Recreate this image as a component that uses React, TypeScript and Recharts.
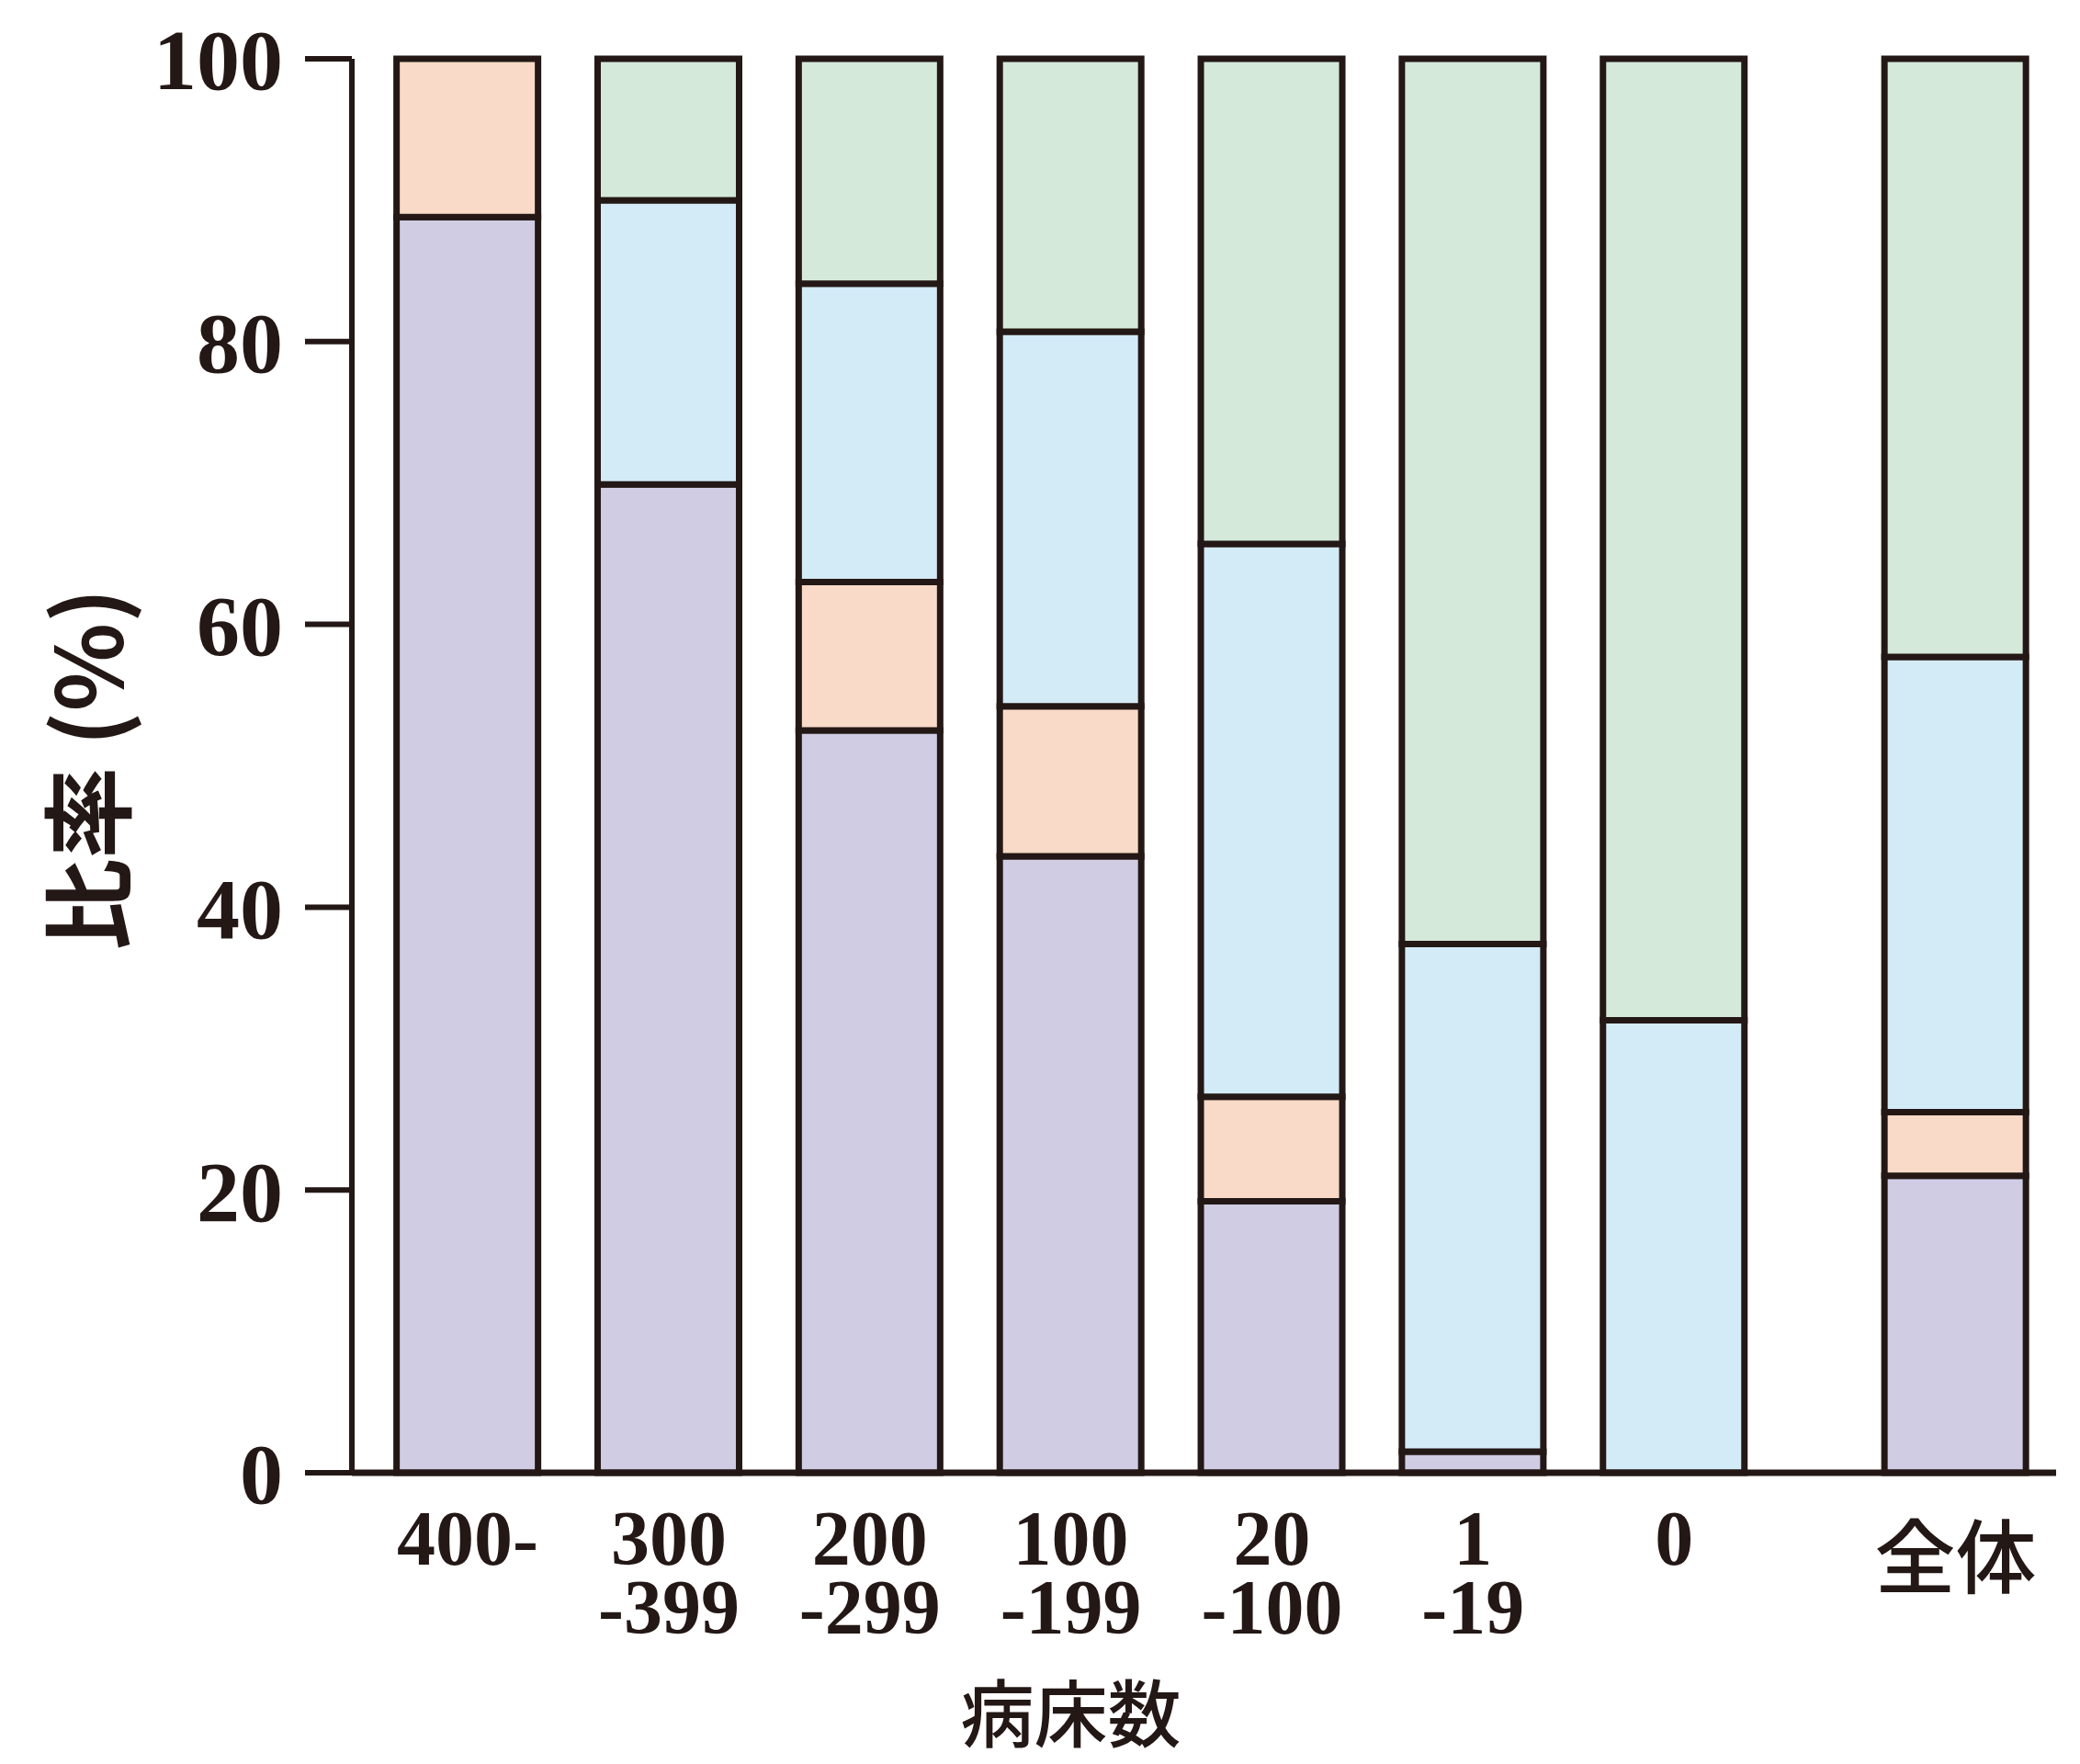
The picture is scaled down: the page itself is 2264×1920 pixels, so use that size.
import { BarChart, Bar, XAxis, YAxis } from 'recharts'

// bed-count groups (two-line tick labels)
const LABEL_TOP = ['400-', '300', '200', '100', '20', '1', '0', '全体']
const LABEL_BOTTOM = ['', '-399', '-299', '-199', '-100', '-19', '', '']

// share per group (%), stacked bottom → top
const PURPLE = [88.8, 69.9, 52.5, 43.6, 19.2, 1.5, 0, 21.0]
const ORANGE = [11.2, 0, 10.5, 10.6, 7.4, 0, 0, 4.5]
const BLUE = [0, 20.1, 21.1, 26.5, 39.1, 35.9, 32.0, 32.2]
const GREEN = [0, 10.0, 15.9, 19.3, 34.3, 62.6, 68.0, 42.3]

const Y_TICKS = [0, 20, 40, 60, 80, 100]

const INK = '#231815'
const SERIF = '"Liberation Serif", "Times New Roman", serif'
const CJK = '"Noto Sans CJK JP", sans-serif'

// the "全体" column sits a little apart from the others
const GAP_AFTER = 6
const GAP = 0.4
const X_DOMAIN: [number, number] = [-0.576, 7.9]

const data = LABEL_TOP.map((_, i) => ({
  pos: i > GAP_AFTER ? i + GAP : i,
  idx: i,
  purple: PURPLE[i],
  orange: ORANGE[i],
  blue: BLUE[i],
  green: GREEN[i],
}))

function XTick(props: any) {
  const { x, y, payload } = props
  const row = data.find(d => d.pos === payload.value)
  if (!row) return null
  const i = row.idx
  const cjk = /[^\x00-\x7f]/.test(LABEL_TOP[i])
  return (
    <g>
      <text
        x={x} y={y + (cjk ? 116 : 92)} textAnchor="middle"
        fontFamily={cjk ? CJK : SERIF} fontWeight={cjk ? 500 : 700}
        fontSize={cjk ? 88 : 84} fill={INK}
      >
        {LABEL_TOP[i]}
      </text>
      {LABEL_BOTTOM[i] && (
        <text
          x={x} y={y + 167} textAnchor="middle"
          fontFamily={SERIF} fontWeight={700} fontSize={84} fill={INK}
        >
          {LABEL_BOTTOM[i]}
        </text>
      )}
    </g>
  )
}

function YLabel(props: any) {
  const vb = props.viewBox
  const cx = vb.x + 90
  const cy = vb.y + vb.height / 2 + 4
  return (
    <text
      x={cx} y={cy} transform={`rotate(-90, ${cx}, ${cy})`}
      textAnchor="middle" dominantBaseline="central"
      fontFamily={CJK} fontWeight={700} fontSize={100} fill={INK}
    >
      比率 (%)
    </text>
  )
}

function XLabel(props: any) {
  const vb = props.viewBox
  const cx = vb.x + ((3 - X_DOMAIN[0]) / (X_DOMAIN[1] - X_DOMAIN[0])) * vb.width
  return (
    <text
      x={cx} y={1860} textAnchor="middle" dominantBaseline="central"
      fontFamily={CJK} fontWeight={500} fontSize={80} fill={INK}
    >
      病床数
    </text>
  )
}

export default function App() {
  const barProps = {
    stackId: 's',
    stroke: INK,
    strokeWidth: 7,
    barSize: 154,
    isAnimationActive: false,
  }
  return (
    <div style={{ position: 'absolute', left: 0, top: 0, background: '#fff' }}>
      <BarChart
        width={2264} height={1920} data={data}
        margin={{ top: 64, right: 26, bottom: 0, left: 0 }}
      >
        <XAxis
          type="number" dataKey="pos" domain={X_DOMAIN} allowDataOverflow
          ticks={data.map(d => d.pos)} interval={0}
          tick={<XTick />} tickLine={false}
          axisLine={{ stroke: INK, strokeWidth: 7 }}
          height={317}
          label={<XLabel />}
        />
        <YAxis
          type="number" domain={[0, 100]} ticks={Y_TICKS} interval={0}
          width={383} tickSize={51} tickMargin={24}
          tick={{ fontFamily: SERIF, fontWeight: 700, fontSize: 94, fill: INK }}
          tickLine={{ stroke: INK, strokeWidth: 6 }}
          axisLine={{ stroke: INK, strokeWidth: 6 }}
          label={<YLabel />}
        />
        <Bar dataKey="purple" fill="#cfcce4" {...barProps} />
        <Bar dataKey="orange" fill="#f9dac8" {...barProps} />
        <Bar dataKey="blue" fill="#d3eaf7" {...barProps} />
        <Bar dataKey="green" fill="#d5e9db" {...barProps} />
      </BarChart>
    </div>
  )
}
